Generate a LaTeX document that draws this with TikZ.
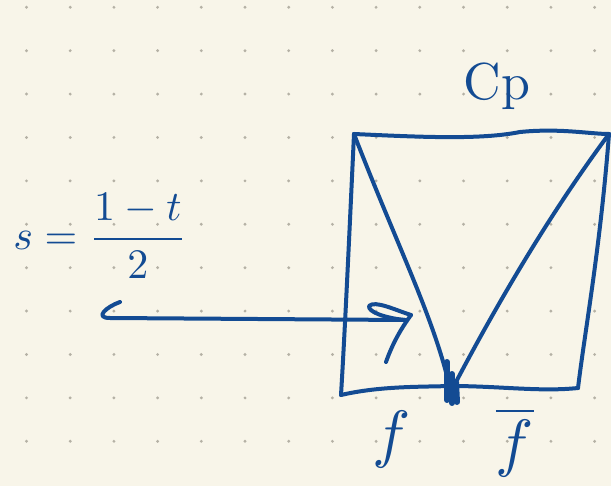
\documentclass[tikz,border=0pt]{standalone}
\usepackage{amsmath,amssymb}
\usepackage{xcolor}
\usepackage{tikz}
\usetikzlibrary{arrows.meta,positioning,calc}
\definecolor{paper}{HTML}{F8F5E9}
\definecolor{ink}{HTML}{134B93}
\definecolor{dotgray}{HTML}{B5B1A5}
\tikzset{
	pen/.style={draw=ink, line width=2pt, line cap=round, line join=round},
	heavypen/.style={draw=ink, line width=3pt, line cap=round},
	inklabel/.style={text=ink, inner sep=0pt},
	griddot/.style={fill=dotgray}
}

\begin{document}
\begin{tikzpicture}[x=0.5pt, y=-0.5pt]
	
	%% ── Paper and dot grid ──────────────────────────────────────────
	\fill[paper] (0,0) rectangle (611,486);
	\useasboundingbox (0,0) rectangle (611,486);
	\foreach \i in {0,...,13}{
		\foreach \j in {0,...,10}{
			\fill[griddot] (26.5+43.7*\i, 7.3+43.4*\j) circle (0.8pt);
		}
	}
	
	%% ── Square corners ──────────────────────────────────────────────
	\coordinate (tl) at (354,134);
	\coordinate (tr) at (609,134);
	\coordinate (br) at (578,388);
	\coordinate (bl) at (341,395);
	\coordinate (apexl) at (447,376);
	\coordinate (apexr) at (457,380);
	
	%% ── Square ──────────────────────────────────────────────────────
	\draw[pen] (tl) .. controls (420,137) and (480,140) .. (520,132)
	.. controls (560,128) and (590,134) .. (tr);
	\draw[pen] (tr) .. controls (600,250) and (585,330) .. (br);
	\draw[pen] (bl) .. controls (380,386) and (420,387) .. (450,386)
	.. controls (500,386) and (540,392) .. (br);
	\draw[pen] (tl) .. controls (350,220) and (345,330) .. (bl);
	
	%% ── Triangle inside ─────────────────────────────────────────────
	\draw[pen] (tl) .. controls (395,240) and (430,310) .. (apexl);
	\draw[pen] (tr) .. controls (560,200) and (510,280) .. (apexr);
	
	% heavy marks at the meeting point
	\draw[heavypen] (447,362) -- (447,400);
	\draw[heavypen] (452,374) -- (452,403);
	\draw[heavypen] (456,382) -- (457,402);
	
	%% ── Arrow s ─────────────────────────────────────────────────────
	\coordinate (tail) at (120,302);
	\coordinate (tip) at (411,315);
	\coordinate (barb) at (386,362);
	\draw[pen] (tail) .. controls (106,307) and (94,318) .. (110,318)
	-- (405,320);
	\draw[pen] (tip) .. controls (395,310) and (375,300) .. (369,306)
	.. controls (368,312) and (385,318) .. (405,320);
	\draw[pen] (tip) .. controls (400,330) and (392,345) .. (barb);
	
	%% ── Labels ──────────────────────────────────────────────────────
	\node[inklabel, scale=2.6] (cp) at (497,86) {Cp};
	\node[inklabel, scale=2.1] (sval) at (100,236) {$s=\dfrac{1-t}{2}$};
	\node[inklabel, scale=3.2] (f) at (392,440) {$f$};
	\node[inklabel, scale=3.2] (fbar) at (515,442) {$\overline{f}$};
	
\end{tikzpicture}
\end{document}
